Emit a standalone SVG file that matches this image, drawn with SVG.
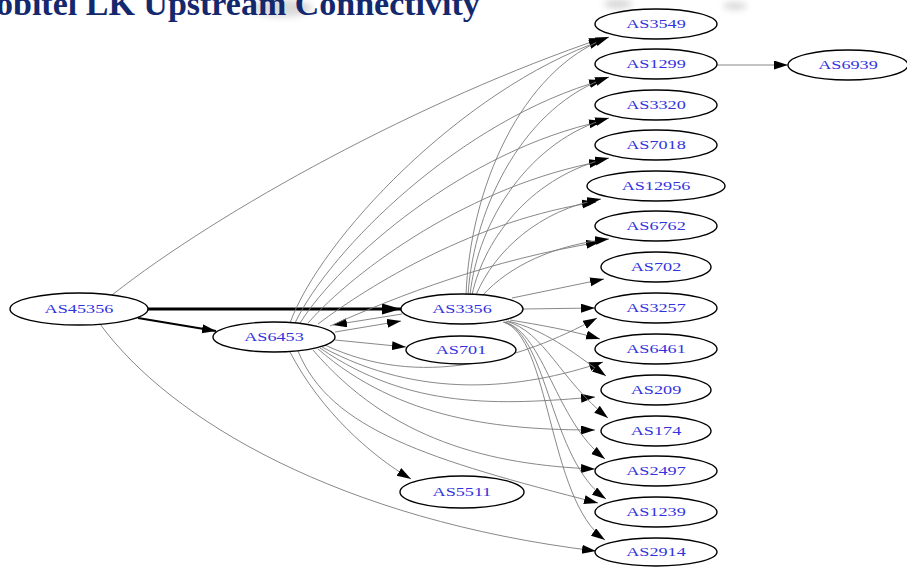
<svg xmlns="http://www.w3.org/2000/svg" width="907" height="567" viewBox="0 0 907 567">
  <style>
    .node ellipse { fill: #ffffff; stroke: #000000; stroke-width: 1.4; }
    .node text { font-family: "Liberation Serif", "Times New Roman", serif; font-size: 13px; fill: #3333dd; text-anchor: middle; transform-box: fill-box; transform-origin: center; transform: scaleX(1.4); }
    .e { fill: none; stroke: #7a7a7a; stroke-width: 0.9; marker-end: url(#arr); }
    .title { font-family: "Liberation Serif", "Times New Roman", serif; font-weight: bold; font-size: 34px; fill: #14286e; }
  </style>
  <defs>
    <marker id="arr" markerUnits="userSpaceOnUse" markerWidth="14" markerHeight="10" refX="14" refY="4.5" orient="auto">
      <path d="M0,0 L14,4.5 L0,9 z" fill="#000"/>
    </marker>
    <marker id="arrBig" markerUnits="userSpaceOnUse" markerWidth="19" markerHeight="12" refX="19" refY="5.5" orient="auto">
      <path d="M0,0 L19,5.5 L0,11 z" fill="#000"/>
    </marker>
    <filter id="soft" x="-50%" y="-50%" width="200%" height="200%">
      <feGaussianBlur stdDeviation="3"/>
    </filter>
  </defs>

  <rect width="907" height="567" fill="#ffffff"/>

  <!-- faint smudges behind the heading -->
  <g fill="#d0d0d0" filter="url(#soft)" opacity="0.8">
    <ellipse cx="282" cy="8" rx="30" ry="9"/>
    <ellipse cx="618" cy="4" rx="14" ry="5"/>
    <ellipse cx="735" cy="6" rx="12" ry="4"/>
  </g>

  <text class="title" x="-4" y="15">obitel LK Upstream  Connectivity</text>

  <g id="edges">
    <!-- AS45356 -->
    <path d="M148,309 L401,309" fill="none" stroke="#000" stroke-width="3" marker-end="url(#arrBig)"/>
    <path d="M138,318 L216,331" fill="none" stroke="#000" stroke-width="2" marker-end="url(#arr)"/>
    <path class="e" d="M112,295 C220,210 420,100 603,38"/>
    <path class="e" d="M100,324 C170,420 340,520 596,551"/>

    <!-- AS6453 / AS3356 pair -->
    <path class="e" d="M402,314 L333,325"/>
    <path class="e" d="M335,332 L401,321"/>
    <path class="e" d="M335,340 L406,347"/>

    <!-- AS6453 to upper column -->
    <path class="e" d="M290,323 C320,240 460,90 603,40"/>
    <path class="e" d="M295,323 C330,250 460,120 603,80"/>
    <path class="e" d="M300,323 C340,260 465,150 603,121"/>
    <path class="e" d="M308,323 C355,270 470,185 603,161"/>
    <path class="e" d="M318,324 C370,285 475,220 596,202"/>
    <path class="e" d="M330,326 C400,295 490,260 600,242"/>

    <!-- AS6453 to lower column -->
    <path class="e" d="M325,345 C420,390 520,360 597,318"/>
    <path class="e" d="M322,347 C420,400 520,390 603,362"/>
    <path class="e" d="M320,348 C410,410 500,405 595,397"/>
    <path class="e" d="M318,349 C400,420 500,430 595,430"/>
    <path class="e" d="M313,350 C390,440 490,465 595,469"/>
    <path class="e" d="M298,351 C330,430 430,460 598,503"/>
    <path class="e" d="M290,352 C320,410 370,455 411,479"/>

    <!-- AS3356 to upper column -->
    <path class="e" d="M466,295 C470,190 520,70 609,37"/>
    <path class="e" d="M468,295 C474,205 525,105 609,77"/>
    <path class="e" d="M470,295 C478,220 530,140 609,118"/>
    <path class="e" d="M472,295 C485,235 535,175 609,158"/>
    <path class="e" d="M476,295 C495,250 540,210 601,199"/>
    <path class="e" d="M482,296 C510,265 555,245 609,239"/>
    <path class="e" d="M512,298 L604,279"/>

    <!-- AS3356 to lower column -->
    <path class="e" d="M523,309 L595,308"/>
    <path class="e" d="M510,320 C540,325 570,330 600,339"/>
    <path class="e" d="M508,321 C545,330 570,350 606,376"/>
    <path class="e" d="M506,321 C545,332 560,380 608,418"/>
    <path class="e" d="M505,322 C545,335 555,420 605,459"/>
    <path class="e" d="M504,322 C548,335 550,460 606,499"/>
    <path class="e" d="M503,322 C550,335 548,500 605,540"/>

    <!-- AS1299 onward -->
    <path class="e" d="M717,65 L788,65"/>
  </g>

  <g id="AS45356" class="node"><ellipse cx="79" cy="309" rx="69" ry="16"/><text x="79" y="313.5">AS45356</text></g>
  <g id="AS6453" class="node"><ellipse cx="274" cy="337" rx="61" ry="15"/><text x="274" y="341.5">AS6453</text></g>
  <g id="AS3356" class="node"><ellipse cx="462" cy="309" rx="61" ry="15"/><text x="462" y="313.5">AS3356</text></g>
  <g id="AS701" class="node"><ellipse cx="461" cy="350" rx="55" ry="14"/><text x="461" y="354.5">AS701</text></g>
  <g id="AS5511" class="node"><ellipse cx="462" cy="492" rx="62" ry="16"/><text x="462" y="496.5">AS5511</text></g>

  <g id="AS3549" class="node"><ellipse cx="656" cy="24" rx="61" ry="15"/><text x="656" y="28.5">AS3549</text></g>
  <g id="AS1299" class="node"><ellipse cx="656" cy="64" rx="61" ry="15"/><text x="656" y="68.5">AS1299</text></g>
  <g id="AS3320" class="node"><ellipse cx="656" cy="105" rx="61" ry="15"/><text x="656" y="109.5">AS3320</text></g>
  <g id="AS7018" class="node"><ellipse cx="656" cy="145" rx="61" ry="15"/><text x="656" y="149.5">AS7018</text></g>
  <g id="AS12956" class="node"><ellipse cx="656" cy="186" rx="69" ry="15"/><text x="656" y="190.5">AS12956</text></g>
  <g id="AS6762" class="node"><ellipse cx="656" cy="226" rx="61" ry="15"/><text x="656" y="230.5">AS6762</text></g>
  <g id="AS702" class="node"><ellipse cx="656" cy="267" rx="55" ry="15"/><text x="656" y="271.5">AS702</text></g>
  <g id="AS3257" class="node"><ellipse cx="656" cy="308" rx="61" ry="15"/><text x="656" y="312.5">AS3257</text></g>
  <g id="AS6461" class="node"><ellipse cx="656" cy="349" rx="61" ry="15"/><text x="656" y="353.5">AS6461</text></g>
  <g id="AS209" class="node"><ellipse cx="656" cy="390" rx="55" ry="15"/><text x="656" y="394.5">AS209</text></g>
  <g id="AS174" class="node"><ellipse cx="656" cy="431" rx="55" ry="15"/><text x="656" y="435.5">AS174</text></g>
  <g id="AS2497" class="node"><ellipse cx="656" cy="471" rx="61" ry="15"/><text x="656" y="475.5">AS2497</text></g>
  <g id="AS1239" class="node"><ellipse cx="656" cy="512" rx="61" ry="15"/><text x="656" y="516.5">AS1239</text></g>
  <g id="AS2914" class="node"><ellipse cx="656" cy="552" rx="61" ry="14"/><text x="656" y="556.5">AS2914</text></g>
  <g id="AS6939" class="node"><ellipse cx="848" cy="65" rx="60" ry="15"/><text x="848" y="69.5">AS6939</text></g>
</svg>
